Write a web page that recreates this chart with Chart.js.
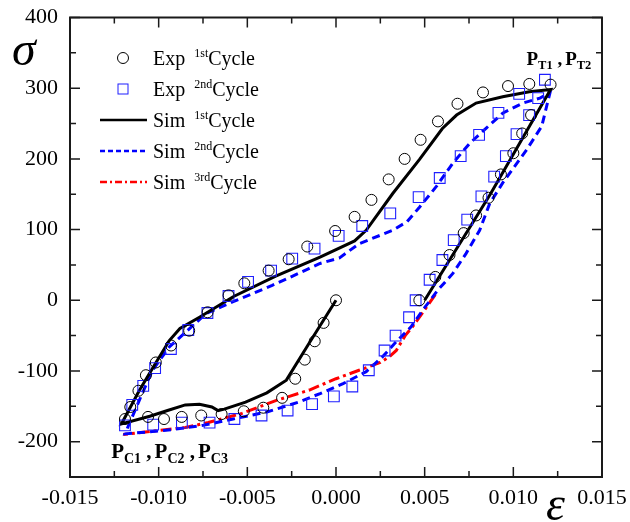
<!DOCTYPE html>
<html>
<head>
<meta charset="utf-8">
<script src="https://cdn.jsdelivr.net/npm/chart.js@4/dist/chart.umd.min.js"></script>
<style>
  html, body { margin: 0; padding: 0; background: #fff; }
  #wrap { width: 630px; height: 522px; }
</style>
</head>
<body>
<div id="wrap"><canvas id="c" width="630" height="522"></canvas></div>
<script>
// Axis ticks
const xTicks = [-0.015, -0.010, -0.005, 0.000, 0.005, 0.010, 0.015];
const yTicks = [-200, -100, 0, 100, 200, 300, 400];

// Experiment, 1st cycle (strain, stress)
const exp1Eps = [0, -0.0007, -0.0012, -0.00176, -0.0023, -0.00304, -0.0041, -0.0052, -0.00645, -0.0076, -0.0087, -0.0097, -0.0106, -0.0119,
  -0.0116, -0.01114, -0.01072, -0.01016, -0.0093, -0.00828, -0.00724, -0.00606, -0.00517, -0.0038, -0.00267, -0.00162, -0.00005, 0.00105,
  0.0020, 0.00297, 0.00387, 0.00477, 0.00575, 0.00685, 0.00829, 0.0097, 0.0109, 0.0121,
  0.0110, 0.0105, 0.0100, 0.0093, 0.0086, 0.0079, 0.0072, 0.0064, 0.0056, 0.0047];
const exp1Sig = [0, -32, -58, -84, -111, -138, -152, -157, -161, -163, -165, -168, -165, -168,
  -151, -128, -106, -88, -64, -43, -17, 7, 24, 42, 58, 76, 98, 118,
  142, 171, 200, 227, 253, 278, 294, 303, 306, 305,
  262, 236, 208, 178, 145, 120, 95, 64, 33, 0];

// Experiment, 2nd cycle
const exp2Eps = [0.0114, 0.01089, 0.01018, 0.00958, 0.00892, 0.0082, 0.0074, 0.00664, 0.0060, 0.00528, 0.00449, 0.00412, 0.00336, 0.00274,
  0.00185, 0.00092, -0.00012, -0.00135, -0.00273, -0.0042, -0.00573, -0.00713, -0.00869, -0.01031, -0.0119,
  -0.01149, -0.01087, -0.0102, -0.00931, -0.00833, -0.00725, -0.00606, -0.00496, -0.00366, -0.00247, -0.00121, 0.00015, 0.00148,
  0.00306, 0.00466, 0.00585, 0.00703, 0.00807, 0.00916, 0.01033, 0.01178];
const exp2Sig = [286, 262, 235, 204, 175, 147, 114, 85, 57, 29, 0, -24, -50, -71,
  -99, -122, -136, -147, -156, -163, -168, -173, -173, -176, -177,
  -148, -121, -96, -69, -42, -18, 6, 26, 42, 59, 73, 91, 105,
  123, 146, 173, 204, 234, 265, 292, 312];

// Simulation, 1st cycle
const sim1Eps = [0, -0.0015, -0.0028, -0.0039, -0.0051, -0.0063, -0.00665, -0.0070, -0.0077, -0.0085, -0.0095, -0.0105, -0.0121,
  -0.0111, -0.0102, -0.0094, -0.0088, -0.0077, -0.0058, -0.0034, -0.0009, 0.00105, 0.0017, 0.0032, 0.0047, 0.0060, 0.0068,
  0.0079, 0.0094, 0.0109, 0.0121, 0.0087, 0.0050];
const sim1Sig = [0, -60, -113, -131, -144, -154, -156, -151, -147, -148, -156, -164, -175,
  -128, -90, -57, -40, -24, 5, 34, 61, 84, 99, 151, 199, 243, 262,
  279, 288, 295, 298, 150, 0];

// Simulation, 2nd cycle
const sim2Eps = [0.0121, 0.0116, 0.01075, 0.0094, 0.00867, 0.0081, 0.00733, 0.00659, 0.00573, 0.00489, 0.00422, 0.00346, 0.00262,
  0.0017, 0.0004, -0.0009, -0.0021, -0.0039, -0.0058, -0.0075, -0.0096, -0.0119,
  -0.0111, -0.01035, -0.0094, -0.00847, -0.00734, -0.0058, -0.0036, -0.0015, -0.0009, 0.0002, 0.0013, 0.0032, 0.0040,
  0.00472, 0.00566, 0.00659, 0.00754, 0.00849, 0.00942, 0.01055, 0.0115, 0.0120];
const sim2Sig = [297, 246, 213, 166, 137, 99, 66, 38, 14, -14, -38, -57, -80,
  -101, -118, -132, -144, -158, -168, -177, -184, -189,
  -142, -99, -66, -45, -19, -2, 21, 45, 52, 60, 80, 99, 111,
  132, 161, 194, 222, 244, 265, 279, 286, 293];

// Simulation, 3rd cycle
const sim3Eps = [0.0056, 0.0049, 0.0043, 0.0039, 0.0034, 0.0030, 0.0025, 0.0013, 0.0, -0.0015, -0.0034, -0.0053, -0.0072, -0.0085, -0.0117, -0.0120];
const sim3Sig = [8, -17, -38, -50, -71, -80, -88, -99, -111, -127, -142, -160, -173, -180, -189, -190];

const pts = (xs, ys) => xs.map((x, i) => ({ x: x, y: ys[i] }));

const SERIF = "'Liberation Serif', 'Times New Roman', serif";
const BLUE = '#1f1fff';

// Inward tick marks and the box around the plot
const framePlugin = {
  id: 'frame',
  afterDatasetsDraw(chart) {
    const { ctx, chartArea: a, scales: { x, y } } = chart;
    ctx.save();
    ctx.strokeStyle = '#1a1a1a';
    ctx.lineWidth = 1.5;
    const major = 10, minor = 6;
    ctx.beginPath();
    for (let i = 0; i < xTicks.length; i++) {
      const px = x.getPixelForValue(xTicks[i]);
      ctx.moveTo(px, a.bottom); ctx.lineTo(px, a.bottom - major);
      ctx.moveTo(px, a.top); ctx.lineTo(px, a.top + major);
      if (i < xTicks.length - 1) {
        const pm = x.getPixelForValue((xTicks[i] + xTicks[i + 1]) / 2);
        ctx.moveTo(pm, a.bottom); ctx.lineTo(pm, a.bottom - minor);
        ctx.moveTo(pm, a.top); ctx.lineTo(pm, a.top + minor);
      }
    }
    for (let i = 0; i < yTicks.length; i++) {
      const py = y.getPixelForValue(yTicks[i]);
      ctx.moveTo(a.left, py); ctx.lineTo(a.left + major, py);
      ctx.moveTo(a.right, py); ctx.lineTo(a.right - major, py);
      const pm = y.getPixelForValue(yTicks[i] - 50);
      ctx.moveTo(a.left, pm); ctx.lineTo(a.left + minor, pm);
      ctx.moveTo(a.right, pm); ctx.lineTo(a.right - minor, pm);
    }
    ctx.stroke();
    ctx.lineWidth = 2;
    ctx.strokeRect(a.left, a.top, a.right - a.left, a.bottom - a.top);
    ctx.restore();
  }
};

// Draws a run of text pieces, each with its own size and vertical shift
function drawRun(ctx, x, y, parts) {
  let cx = x;
  for (const [t, size, dy, extra] of parts) {
    ctx.font = 'bold ' + size + 'px ' + SERIF;
    ctx.fillText(t, cx, y + dy);
    cx += ctx.measureText(t).width + (extra || 0);
  }
}

const textPlugin = {
  id: 'texts',
  afterDraw(chart) {
    const { ctx, chartArea: a, scales: { x, y } } = chart;
    ctx.save();
    ctx.fillStyle = '#000';
    ctx.textBaseline = 'alphabetic';
    ctx.textAlign = 'left';

    // axis symbols
    ctx.font = 'italic 48px ' + SERIF;
    ctx.fillText('σ', 12, 65);
    ctx.fillText('ε', 546, 520);

    // turning point labels
    drawRun(ctx, x.getPixelForValue(0.01074), y.getPixelForValue(333), [
      ['P', 19, 0], ['T1', 12.5, 4], [' ,', 19, 0, 3], ['P', 19, 0], ['T2', 12.5, 4]
    ]);
    drawRun(ctx, x.getPixelForValue(-0.01268), y.getPixelForValue(-223), [
      ['P', 21, 0], ['C1', 14, 5], [' ,', 21, 0, 3], ['P', 21, 0], ['C2', 14, 5], [' ,', 21, 0, 3], ['P', 21, 0], ['C3', 14, 5]
    ]);

    // legend
    const lx0 = a.left + 30, lx1 = a.left + 77, mx = a.left + 53, tx = a.left + 83;
    const rowY = i => a.top + 40.5 + 31 * i;
    const rows = [
      ['Exp', '1st'], ['Exp', '2nd'], ['Sim', '1st'], ['Sim', '2nd'], ['Sim', '3rd']
    ];
    ctx.lineWidth = 1;
    ctx.strokeStyle = '#000';
    ctx.beginPath(); ctx.arc(mx, rowY(0), 5.5, 0, Math.PI * 2); ctx.stroke();
    ctx.strokeStyle = BLUE;
    ctx.strokeRect(mx - 5, rowY(1) - 5, 10, 10);
    ctx.lineWidth = 2.4;
    ctx.strokeStyle = '#000'; ctx.setLineDash([]);
    ctx.beginPath(); ctx.moveTo(lx0, rowY(2)); ctx.lineTo(lx1, rowY(2)); ctx.stroke();
    ctx.strokeStyle = '#0000ff'; ctx.setLineDash([5, 3]);
    ctx.beginPath(); ctx.moveTo(lx0, rowY(3)); ctx.lineTo(lx1, rowY(3)); ctx.stroke();
    ctx.strokeStyle = '#ff0000'; ctx.setLineDash([7, 3, 2, 3]);
    ctx.beginPath(); ctx.moveTo(lx0, rowY(4)); ctx.lineTo(lx1, rowY(4)); ctx.stroke();
    ctx.setLineDash([]);

    for (let i = 0; i < rows.length; i++) {
      const by = rowY(i) + 7;
      let cx = tx;
      ctx.font = '20px ' + SERIF;
      ctx.fillText(rows[i][0], cx, by);
      cx += ctx.measureText(rows[i][0]).width + 9;
      ctx.font = '12px ' + SERIF;
      ctx.fillText(rows[i][1], cx, by - 8);
      cx += ctx.measureText(rows[i][1]).width;
      ctx.font = '20px ' + SERIF;
      ctx.fillText('Cycle', cx, by);
    }
    ctx.restore();
  }
};

const tickFont = { family: SERIF, size: 22 };

new Chart(document.getElementById('c'), {
  type: 'scatter',
  data: {
    datasets: [
      { label: 'Exp 1st Cycle', data: pts(exp1Eps, exp1Sig), showLine: false, pointStyle: 'circle',
        pointRadius: 5.5, borderColor: '#000', backgroundColor: 'rgba(0,0,0,0)', pointBorderWidth: 1 },
      { label: 'Exp 2nd Cycle', data: pts(exp2Eps, exp2Sig), showLine: false, pointStyle: 'rect',
        pointRadius: 7.6, borderColor: BLUE, backgroundColor: 'rgba(0,0,0,0)', pointBorderWidth: 1.1 },
      { label: 'Sim 1st Cycle', data: pts(sim1Eps, sim1Sig), showLine: true, pointRadius: 0,
        borderColor: '#000', borderWidth: 3, tension: 0 },
      { label: 'Sim 2nd Cycle', data: pts(sim2Eps, sim2Sig), showLine: true, pointRadius: 0,
        borderColor: '#0000ff', borderWidth: 3, borderDash: [8, 5], tension: 0 },
      { label: 'Sim 3rd Cycle', data: pts(sim3Eps, sim3Sig), showLine: true, pointRadius: 0,
        borderColor: '#ff0000', borderWidth: 3, borderDash: [11, 4, 3, 4], tension: 0 }
    ]
  },
  options: {
    responsive: false,
    animation: false,
    layout: { padding: { top: 17.5, right: 28, left: 0, bottom: 0 } },
    plugins: { legend: { display: false }, tooltip: { enabled: false } },
    scales: {
      x: {
        type: 'linear', min: -0.015, max: 0.015,
        afterBuildTicks: s => { s.ticks = xTicks.map(v => ({ value: v })); },
        afterFit: s => { s.height = 45; s.paddingLeft = 0; s.paddingRight = 0; },
        grid: { display: false, drawTicks: false },
        border: { display: false },
        ticks: { font: tickFont, color: '#000', padding: 8, maxRotation: 0, autoSkip: false,
                 callback: v => v.toFixed(3) }
      },
      y: {
        type: 'linear', min: -250, max: 400,
        afterBuildTicks: s => { s.ticks = yTicks.map(v => ({ value: v })); },
        afterFit: s => { s.width = 70; s.paddingTop = 0; s.paddingBottom = 0; },
        grid: { display: false, drawTicks: false },
        border: { display: false },
        ticks: { font: tickFont, color: '#000', padding: 12, autoSkip: false,
                 callback: v => String(v) }
      }
    }
  },
  plugins: [framePlugin, textPlugin]
});
</script>
</body>
</html>
